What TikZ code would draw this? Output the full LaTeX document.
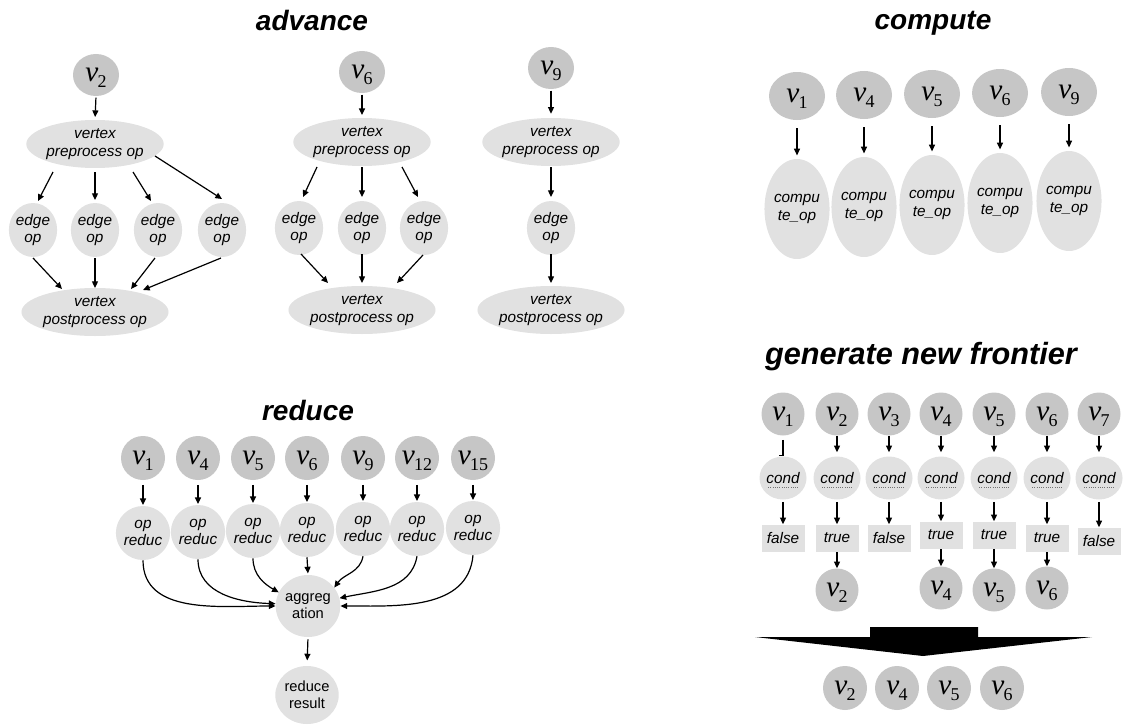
\documentclass[tikz,border=0pt]{standalone}
\usepackage{fontspec}
\setmainfont{Liberation Sans}
\newfontfamily\vfont{Liberation Serif}
\usetikzlibrary{shapes.geometric,arrows.meta}
\definecolor{darkg}{RGB}{198,198,198}
\definecolor{lightg}{RGB}{225,225,225}
\newcommand{\vl}[1]{{\vfont\fontsize{22}{22}\selectfont\itshape v}\kern-0.5pt\smash{\raisebox{-4.5pt}{\vfont\fontsize{13.5}{13.5}\selectfont #1}}}
\begin{document}
\begin{tikzpicture}[x=0.75pt,y=-0.75pt,
  vtx/.style={ellipse, fill=darkg, inner sep=0pt},
  opn/.style={ellipse, fill=lightg, inner sep=0pt, align=center, font=\fontsize{11.5}{13}\selectfont\itshape},
  upn/.style={ellipse, fill=lightg, inner sep=0pt, align=center, font=\fontsize{11}{13}\selectfont},
  boxn/.style={rectangle, fill=lightg, inner sep=0pt, minimum width=32.25pt, minimum height=20.25pt, font=\fontsize{11.5}{13}\selectfont\itshape},
  arr/.style={line width=0.9pt, -{Triangle[length=5pt,width=4.5pt]}},
  ln/.style={line width=0.9pt},
  ttl/.style={font=\fontsize{21}{24}\selectfont\bfseries\itshape},
  condline/.style={densely dotted, line width=0.7pt, black!55},
  advv/.style={vtx, minimum width=34.5pt, minimum height=31.5pt},
  bigop/.style={opn, minimum width=97.5pt, minimum height=36pt},
  midop/.style={opn, minimum width=93pt, minimum height=36pt},
  edgeop/.style={opn, minimum width=36pt, minimum height=40.5pt},
  compv/.style={vtx, minimum width=42pt, minimum height=36pt},
  compop/.style={opn, minimum width=40.5pt, minimum height=75pt},
  redv/.style={vtx, minimum width=33pt, minimum height=33pt},
  redop/.style={opn, minimum width=40.5pt, minimum height=40.5pt},
  frv/.style={vtx, minimum width=32.25pt, minimum height=32.25pt},
  condn/.style={opn, minimum width=32.25pt, minimum height=32.25pt}
]
\useasboundingbox (0,0) rectangle (1126,724);

% ---------------- advance ----------------
\node[ttl] (tadv) at (312,20) {advance};
% group 1
\node[advv] (a1v) at (96,75) {\vl{2}};
\node[bigop] (a1pre) at (95,144) {vertex\\preprocess op};
\node[edgeop] (a1e1) at (33,230) {edge\\op};
\node[edgeop] (a1e2) at (95,230) {edge\\op};
\node[edgeop] (a1e3) at (158,230) {edge\\op};
\node[edgeop] (a1e4) at (222,230) {edge\\op};
\node[bigop] (a1post) at (95,312) {vertex\\postprocess op};
\draw[arr, shorten <=1pt, shorten >=2pt] (a1v.south) -- (a1pre.north);
\draw[arr] ([shift={(-42,28)}]a1pre.center) -- ([shift={(5,-29)}]a1e1.center);
\draw[arr] ([shift={(0,28)}]a1pre.center) -- ([shift={(0,-30)}]a1e2.center);
\draw[arr] ([shift={(38,28)}]a1pre.center) -- ([shift={(-7,-29)}]a1e3.center);
\draw[arr] ([shift={(60,12)}]a1pre.center) -- ([shift={(0,-31)}]a1e4.center);
\draw[arr] ([shift={(0,28)}]a1e1.center) -- ([shift={(-33,-23)}]a1post.center);
\draw[arr] ([shift={(0,28)}]a1e2.center) -- ([shift={(0,-24)}]a1post.center);
\draw[arr] ([shift={(-3,28)}]a1e3.center) -- ([shift={(36,-23)}]a1post.center);
\draw[arr] ([shift={(-1,28)}]a1e4.center) -- ([shift={(48,-22)}]a1post.center);
% group 2
\node[advv] (a2v) at (362,72) {\vl{6}};
\node[midop] (a2pre) at (362,142) {vertex\\preprocess op};
\node[edgeop] (a2e1) at (299,228) {edge\\op};
\node[edgeop] (a2e2) at (362,228) {edge\\op};
\node[edgeop] (a2e3) at (424,228) {edge\\op};
\node[midop] (a2post) at (362,310) {vertex\\postprocess op};
\draw[arr, shorten <=1pt, shorten >=2pt] (a2v.south) -- (a2pre.north);
\draw[arr] ([shift={(-45,25)}]a2pre.center) -- ([shift={(4,-31)}]a2e1.center);
\draw[arr] ([shift={(0,25)}]a2pre.center) -- ([shift={(0,-31)}]a2e2.center);
\draw[arr] ([shift={(40,25)}]a2pre.center) -- ([shift={(-6,-31)}]a2e3.center);
\draw[arr] ([shift={(2,26)}]a2e1.center) -- ([shift={(-34,-27)}]a2post.center);
\draw[arr] ([shift={(0,26)}]a2e2.center) -- ([shift={(0,-27)}]a2post.center);
\draw[arr] ([shift={(-1,27)}]a2e3.center) -- ([shift={(35,-27)}]a2post.center);
% group 3
\node[advv] (a3v) at (551,68) {\vl{9}};
\node[midop] (a3pre) at (551,142) {vertex\\preprocess op};
\node[edgeop] (a3e) at (551,228) {edge\\op};
\node[midop] (a3post) at (551,310) {vertex\\postprocess op};
\draw[arr, shorten <=1pt, shorten >=3pt] (a3v.south) -- (a3pre.north);
\draw[arr] ([shift={(0,25)}]a3pre.center) -- ([shift={(0,-31)}]a3e.center);
\draw[arr] ([shift={(0,26)}]a3e.center) -- ([shift={(0,-27)}]a3post.center);

% ---------------- compute ----------------
\node[ttl] (tcomp) at (933,23) {compute};
\foreach \i/\x/\yv/\yo/\s in {1/797/96/209/1, 2/864/95/207/4, 3/932/94/205/5, 4/1000/93/203/6, 5/1069/92/201/9}{
  \node[compv] (cv\i) at (\x,\yv) {\vl{\s}};
  \node[compop] (co\i) at (\x,\yo) {compu\\te\_op};
  \draw[arr, shorten <=6pt, shorten >=2.5pt] (cv\i.south) -- (co\i.north);
}

% ---------------- reduce ----------------
\node[ttl] (tred) at (308,410) {reduce};
\foreach \i/\x/\yo/\s in {1/143/533/1, 2/198/532/4, 3/253/531/5, 4/307/530/6, 5/363/529/9, 6/417/529/12, 7/473/528/15}{
  \node[redv] (rv\i) at (\x,458) {\vl{\s}};
  \node[redop] (ro\i) at (\x,\yo) {op\\reduc};
  \draw[arr, shorten <=3.5pt, shorten >=0.5pt] (rv\i.south) -- (ro\i.north);
}
\node[upn, minimum width=42pt, minimum height=46.5pt] (agg) at (308,606) {aggreg\\ation};
\node[upn, minimum width=40.5pt, minimum height=43.5pt] (res) at (307,695) {reduce\\result};
\draw[arr] (ro1.south) to[out=-90,in=180] (agg.180);
\draw[arr] (ro2.south) to[out=-90,in=178] (agg.176);
\draw[arr] (ro3.south) to[out=-90,in=150] (agg.155);
\draw[arr, shorten <=0pt, shorten >=1pt] (ro4.south) -- (agg.north);
\draw[arr] (ro5.south) to[out=-100,in=55] (agg.35);
\draw[arr] (ro6.south) to[out=-100,in=12] (agg.14);
\draw[arr] (ro7.south) to[out=-95,in=0] (agg.0);
\draw[arr, shorten <=1.5pt, shorten >=4pt] (agg.south) -- (res.north);

% ---------------- generate new frontier ----------------
\node[ttl, font=\fontsize{23}{26}\selectfont\bfseries\itshape] (tgen) at (921,357) {generate new frontier};
\foreach \i/\x/\by/\bt in {1/783/538/false, 2/837/538/true, 3/889/538/false, 4/941/535/true, 5/994/535/true, 6/1047/538/true, 7/1099/541/false}{
  \node[frv] (fv\i) at (\x,414) {\vl{\i}};
  \node[condn] (fc\i) at (\x,478) {cond};
  \draw[condline] ([shift={(-15,9)}]fc\i.center) -- ([shift={(15,9)}]fc\i.center);
  \node[boxn] (fb\i) at (\x,\by) {\bt};
  \draw[arr, shorten <=1.5pt, shorten >=0pt] (fc\i.south) -- (fb\i.north);
}
\foreach \i in {2,...,7}{
  \draw[arr, shorten <=0pt, shorten >=3pt] (fv\i.south) -- (fc\i.north);
}
\draw[ln] ([shift={(0,4)}]fv1.south) -- ([shift={(0,-1)}]fc1.north) -- ([shift={(-4,-1)}]fc1.north);
\foreach \i/\y in {2/590, 4/588, 5/590, 6/588}{
  \node[frv] (fo\i) at (fb\i |- 0,\y) {\vl{\i}};
  \draw[arr, shorten <=0.5pt, shorten >=0pt] (fb\i.south) -- (fo\i.north);
}
\fill[black] (870,627) -- (978,627) -- (978,637) -- (1092,637) -- (923,656) -- (755,637) -- (870,637) -- cycle;
\node[redv] (n2) at (845,688) {\vl{2}};
\node[redv] (n4) at (897,688) {\vl{4}};
\node[redv] (n5) at (949,688) {\vl{5}};
\node[redv] (n6) at (1002,688) {\vl{6}};
\end{tikzpicture}
\end{document}
